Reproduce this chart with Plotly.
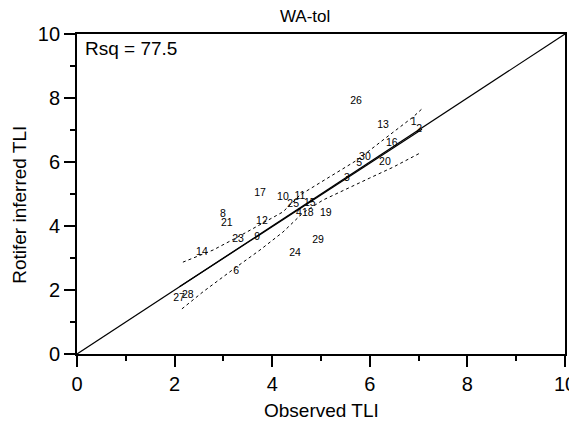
import plotly.graph_objects as go

# Sample labels and positions (observed TLI, rotifer inferred TLI)
labels = ["26", "13", "1", "2", "16", "30", "5", "20", "3", "17", "10", "11",
          "25", "15", "4", "18", "19", "8", "21", "12", "23", "9", "29", "14",
          "24", "6", "27", "28"]
obs = [5.72, 6.27, 6.90, 7.01, 6.45, 5.90, 5.78, 6.31, 5.53, 3.75, 4.22, 4.57,
       4.43, 4.77, 4.55, 4.73, 5.10, 2.99, 3.07, 3.79, 3.30, 3.69, 4.94, 2.56,
       4.47, 3.26, 2.09, 2.27]
inf = [7.91, 7.16, 7.25, 7.03, 6.59, 6.13, 5.97, 6.00, 5.50, 5.03, 4.90, 4.94,
       4.69, 4.72, 4.41, 4.41, 4.41, 4.37, 4.09, 4.13, 3.59, 3.66, 3.56, 3.19,
       3.16, 2.59, 1.75, 1.84]

# 1:1 line
one_x = [0, 10]
one_y = [0, 10]

reg_x = [2.10, 7.07]
reg_y = [2.10, 7.02]

up_x = [2.17, 2.79, 3.30, 3.75, 4.22, 4.57, 5.18, 5.74, 6.35, 6.89, 7.09]
up_y = [2.87, 3.25, 3.66, 4.03, 4.44, 4.97, 5.53, 6.06, 6.78, 7.41, 7.69]
lo_x = [2.15, 2.58, 3.24, 3.75, 4.22, 4.63, 5.04, 5.59, 6.00, 6.48, 7.03]
lo_y = [1.41, 1.94, 2.69, 3.25, 3.81, 4.41, 4.81, 5.22, 5.50, 5.84, 6.28]

tick_vals = [0, 2, 4, 6, 8, 10]
tick_text = ["0", "2", "4", "6", "8", "10"]

FONT = "Liberation Sans, Arial, sans-serif"

fig = go.Figure()
fig.add_trace(go.Scatter(x=one_x, y=one_y, mode="lines",
                         line=dict(color="black", width=1.2), showlegend=False))
fig.add_trace(go.Scatter(x=reg_x, y=reg_y, mode="lines",
                         line=dict(color="black", width=1.2), showlegend=False))
fig.add_trace(go.Scatter(x=up_x, y=up_y, mode="lines",
                         line=dict(color="black", width=1, dash="dot"), showlegend=False))
fig.add_trace(go.Scatter(x=lo_x, y=lo_y, mode="lines",
                         line=dict(color="black", width=1, dash="dot"), showlegend=False))
fig.add_trace(go.Scatter(x=obs, y=inf, mode="text", text=labels,
                         textfont=dict(family=FONT, size=10.5, color="black"),
                         showlegend=False))

axis_common = dict(
    range=[0, 10], tickvals=tick_vals, ticktext=tick_text,
    ticks="outside", ticklen=11, tickwidth=1.8, tickcolor="black",
    minor=dict(dtick=1, tick0=0, ticks="outside", ticklen=5, tickwidth=1.5, tickcolor="black"),
    showline=True, linecolor="black", linewidth=1.8, mirror=True,
    showgrid=False, zeroline=False, automargin=False,
    tickfont=dict(family=FONT, size=20, color="black"),
)

fig.update_layout(
    width=577, height=432,
    margin=dict(l=69, r=20, t=26, b=86),
    paper_bgcolor="white", plot_bgcolor="white",
    title=dict(text="WA-tol", x=0.515, xanchor="center", y=0.982, yanchor="middle",
               font=dict(family=FONT, size=17, color="black")),
    xaxis=dict(axis_common),
    yaxis=dict(axis_common),
    annotations=[
        dict(text="Rsq = 77.5", xref="paper", yref="paper",
             x=0.012, y=0.956, xanchor="left", yanchor="middle",
             showarrow=False, font=dict(family=FONT, size=19, color="black")),
        dict(text="Observed TLI", xref="paper", yref="paper",
             x=0.5, y=-0.178, xanchor="center", yanchor="middle",
             showarrow=False, font=dict(family=FONT, size=19, color="black")),
        dict(text="Rotifer inferred TLI", xref="paper", yref="paper",
             x=-0.117, y=0.466, xanchor="center", yanchor="middle", textangle=-90,
             showarrow=False, font=dict(family=FONT, size=19, color="black")),
    ],
)

fig.write_html("out.html")
